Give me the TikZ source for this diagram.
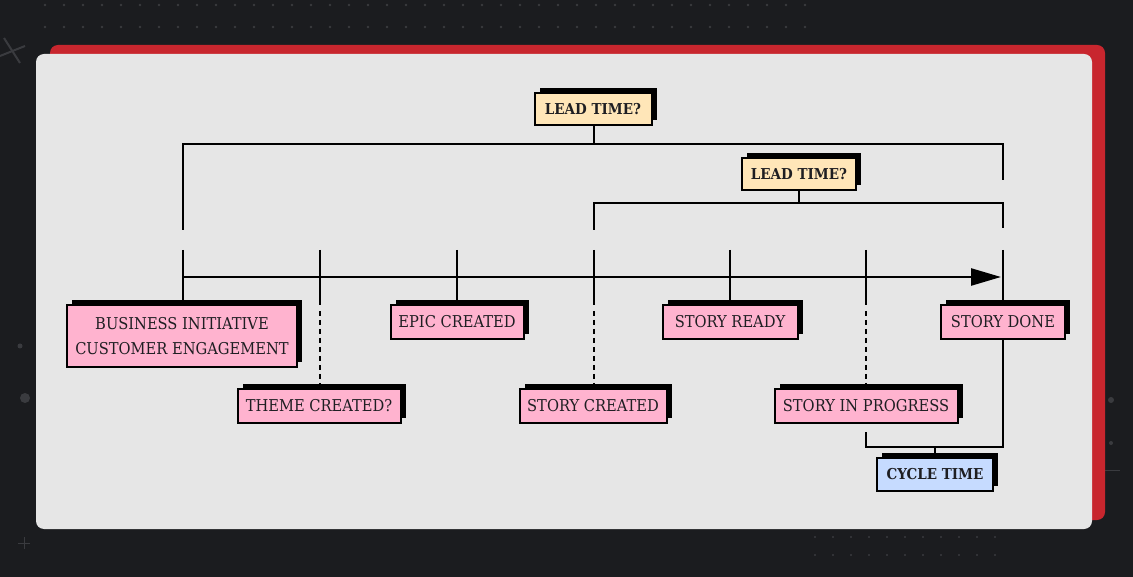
\documentclass[tikz,border=0pt]{standalone}
\usepackage{fontspec}
\setmainfont{DejaVu Serif Condensed}
\usetikzlibrary{arrows.meta,shadows}
\definecolor{bgdark}{HTML}{1B1C1F}
\definecolor{redc}{HTML}{C8262E}
\definecolor{panel}{HTML}{E6E6E6}
\definecolor{pinkc}{HTML}{FFB3CF}
\definecolor{creamc}{HTML}{FFE6B8}
\definecolor{bluec}{HTML}{C6DBFF}
\definecolor{decoc}{HTML}{3A3B3F}
\definecolor{txtc}{HTML}{1E1E22}
\begin{document}
\begin{tikzpicture}[x=1pt,y=-1pt,
  evt/.style={draw=black, line width=2pt, fill=pinkc, inner sep=0pt, text=txtc,
    minimum height=34pt, align=center, font=\fontsize{16.3}{25}\selectfont,
    general shadow={fill=black, shadow xshift=5pt, shadow yshift=5pt}},
  lbl/.style={evt, fill=creamc, font=\fontsize{15}{18}\selectfont\bfseries},
  cyc/.style={lbl, fill=bluec},
  ln/.style={line width=2.5pt, black},
  dot/.style={ln, dash pattern=on 5pt off 4pt}]
\useasboundingbox (0,0) rectangle (1133,577);
\fill[bgdark] (0,0) rectangle (1133,577);
% decorations
\foreach \i in {0,...,40} {
  \fill[decoc] (45+\i*19,5) circle (1.3pt);
  \fill[decoc] (45+\i*19,27) circle (1.3pt);
}
\foreach \i in {0,...,10} {
  \fill[decoc] (815+\i*18,537) circle (1.2pt);
  \fill[decoc] (815+\i*18,555) circle (1.2pt);
}
\draw[decoc, line width=2pt] (4,38) -- (20,63);
\draw[decoc, line width=2pt] (0,56) -- (25,46);
\fill[decoc] (20,346) circle (2.5pt);
\fill[decoc] (25,398) circle (5pt);
\draw[decoc, line width=1pt] (18,543) -- (30,543) (24,537) -- (24,549);
\fill[decoc] (1111,400) circle (3pt);
\fill[decoc] (1111,443) circle (2pt);
\draw[decoc, line width=1pt] (1105,470) -- (1120,470);
% panels
\fill[redc, rounded corners=8pt] (50,45) rectangle (1105,520);
\fill[panel, rounded corners=8pt] (36,54) rectangle (1092,529);

% nodes
\node[evt, minimum width=230pt, minimum height=62pt] (bi) at (182,336) {BUSINESS INITIATIVE\\CUSTOMER ENGAGEMENT};
\node[evt, minimum width=163pt] (theme) at (319,406) {THEME CREATED?};
\node[evt, minimum width=133pt] (epic) at (457,322) {EPIC CREATED};
\node[evt, minimum width=147pt] (screated) at (593,406) {STORY CREATED};
\node[evt, minimum width=135pt] (sready) at (730,322) {STORY READY};
\node[evt, minimum width=183pt] (sprog) at (866,406) {STORY IN PROGRESS};
\node[evt, minimum width=124pt] (sdone) at (1003,322) {STORY DONE};
\node[cyc, minimum width=116pt, minimum height=33pt] (cycle) at (935,474) {CYCLE TIME};
\node[lbl, minimum width=117pt, minimum height=32pt] (lead1) at (593,109) {LEAD TIME?};
\node[lbl, minimum width=114pt, minimum height=32pt] (lead2) at (799,174) {LEAD TIME?};

% coordinates
\coordinate (a0) at (183,277);
\coordinate (a1) at (1001,277);
\foreach \n/\x in {1/183,2/320,3/457,4/594,5/730,6/866,7/1003} {
  \coordinate (t\n) at (\x,250);
  \coordinate (s\n) at (\x,305);
  \coordinate (d\n) at (\x,311);
}
\coordinate (o1) at (183,230);
\coordinate (o2) at (183,144);
\coordinate (o3) at (1003,144);
\coordinate (o4) at (1003,180);
\coordinate (om) at (594,144);
\coordinate (i1) at (594,230);
\coordinate (i2) at (594,203);
\coordinate (i3) at (1003,203);
\coordinate (i4) at (1003,228);
\coordinate (im) at (799,203);
\coordinate (c1) at (866,432);
\coordinate (c2) at (866,447);
\coordinate (c3) at (1003,447);
\coordinate (cm) at (935,447);

% timeline
\draw[ln, -{Triangle[length=30pt,width=17pt]}] (a0) -- (a1);
\draw[ln] (t1) -- (bi.north -| t1);
\draw[ln] (t2) -- (s2);
\draw[dot] (d2) -- (theme.north -| d2);
\draw[ln] (t3) -- (epic.north -| t3);
\draw[ln] (t4) -- (s4);
\draw[dot] (d4) -- (screated.north -| d4);
\draw[ln] (t5) -- (sready.north -| t5);
\draw[ln] (t6) -- (s6);
\draw[dot] (d6) -- (sprog.north -| d6);
\draw[ln] (t7) -- (sdone.north -| t7);

% lead time brackets
\draw[ln] (o1) -- (o2) -- (o3) -- (o4);
\draw[ln] (lead1.south -| om) -- (om);
\draw[ln] (i1) -- (i2) -- (i3) -- (i4);
\draw[ln] (lead2.south -| im) -- (im);

% cycle time bracket
\draw[ln] (c1) -- (c2) -- (c3) -- (sdone.south -| c3);
\draw[ln] (cycle.north -| cm) -- (cm);
\end{tikzpicture}
\end{document}
